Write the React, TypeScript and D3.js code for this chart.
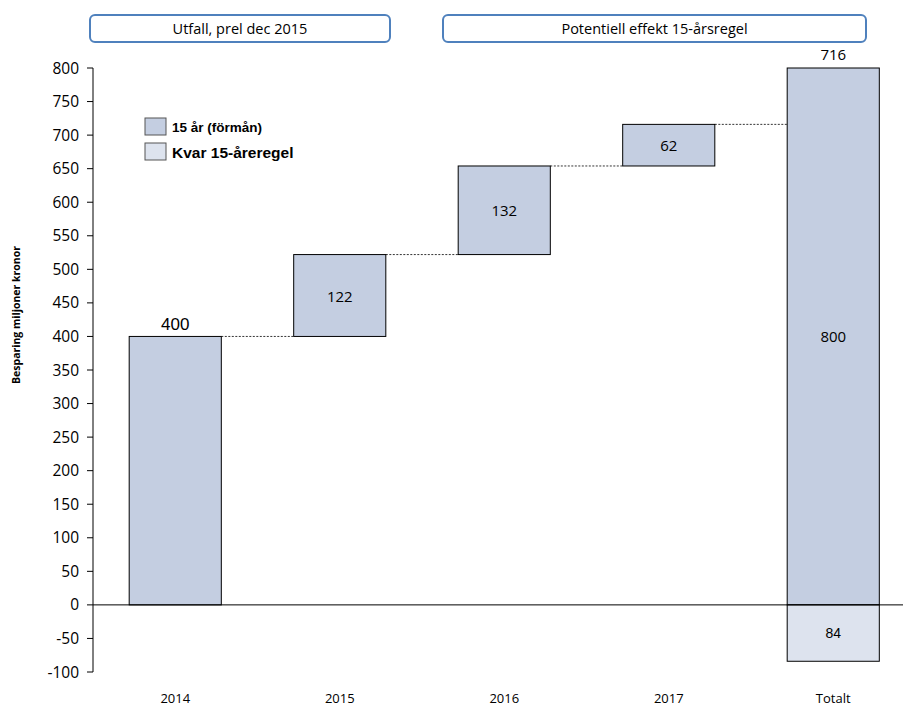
import React from "react";
import * as d3 from "d3";

const categories = ["2014", "2015", "2016", "2017", "Totalt"];
const steps = [400, 122, 132, 62];
const totalValue = 800;
const totalLabel = 716;
const remainder = -84;
const yTicks = [-100, -50, 0, 50, 100, 150, 200, 250, 300, 350, 400, 450, 500, 550, 600, 650, 700, 750, 800];
const legendItems = ["15 år (förmån)", "Kvar 15-åreregel"];
const headers = ["Utfall, prel dec 2015", "Potentiell effekt 15-årsregel"];

const W = 903;
const H = 706;
const FONT = "'Open Sans', 'Noto Sans', sans-serif";
const ARIAL = "'Liberation Sans', Arial, sans-serif";
const FILL = "#c4cee1";
const LIGHT = "#dde3ee";

export default function App() {
  const x = d3.scaleBand<string>().domain(categories).range([93, 915.5]).paddingInner(0.44).paddingOuter(0.22);
  const y = d3.scaleLinear().domain([-100, 800]).range([672, 68]);
  const bw = x.bandwidth();

  let cum = 0;
  const bars = steps.map((v, i) => {
    const start = cum;
    cum += v;
    return { cat: categories[i], start, end: cum, v };
  });

  return (
    <div style={{ position: "fixed", left: 0, top: 0, width: W, height: H, overflow: "hidden", background: "#fff" }}>
      <svg width={W} height={H} style={{ display: "block" }}>
        <rect x={0} y={0} width={W} height={H} fill="#fff" />
        {/* header boxes */}
        <rect x={90} y={15} width={300} height={27} rx={5} fill="#fff" stroke="#4f81bd" strokeWidth={2} />
        <text x={240} y={34} textAnchor="middle" fontFamily={FONT} fontSize={14.5}>{headers[0]}</text>
        <rect x={443} y={15} width={423} height={27} rx={5} fill="#fff" stroke="#4f81bd" strokeWidth={2} />
        <text x={654.5} y={34} textAnchor="middle" fontFamily={FONT} fontSize={14.5}>{headers[1]}</text>

        {/* y axis */}
        <line x1={93} x2={93} y1={y(800)} y2={y(-100)} stroke="#000" strokeWidth={1} />
        {yTicks.map((t) => (
          <g key={t}>
            <line x1={87} x2={93} y1={y(t)} y2={y(t)} stroke="#000" />
            <text x={79} y={y(t) + 5.5} textAnchor="end" fontFamily={FONT} fontSize={15.5}>{t}</text>
          </g>
        ))}
        <text transform={`translate(20,${315}) rotate(-90)`} textAnchor="middle" fontFamily={FONT} fontSize={10.5} fontWeight="bold">
          Besparing miljoner kronor
        </text>

        {/* bars */}
        {bars.map((b, i) => (
          <g key={b.cat}>
            <rect x={x(b.cat)!} y={y(b.end)} width={bw} height={y(b.start) - y(b.end)} fill={FILL} stroke="#000" strokeWidth={1} />
            {i === 0 ? (
              <text x={x(b.cat)! + bw / 2} y={y(b.end) - 6} textAnchor="middle" fontFamily={ARIAL} fontSize={17}>{b.v}</text>
            ) : (
              <text x={x(b.cat)! + bw / 2} y={(y(b.end) + y(b.start)) / 2 + 6} textAnchor="middle" fontFamily={FONT} fontSize={15}>{b.v}</text>
            )}
          </g>
        ))}
        {/* connectors */}
        {bars.map((b, i) => {
          const next = i < bars.length - 1 ? bars[i + 1].cat : "Totalt";
          return (
            <line key={"c" + i} x1={x(b.cat)! + bw} x2={x(next)!} y1={y(b.end)} y2={y(b.end)} stroke="#000" strokeWidth={0.8} strokeDasharray="2,1.5" />
          );
        })}
        {/* total */}
        <rect x={x("Totalt")!} y={y(totalValue)} width={bw} height={y(0) - y(totalValue)} fill={FILL} stroke="#000" />
        <text x={x("Totalt")! + bw / 2} y={(y(totalValue) + y(0)) / 2 + 6} textAnchor="middle" fontFamily={FONT} fontSize={15}>{totalValue}</text>
        <text x={x("Totalt")! + bw / 2} y={y(totalValue) - 8} textAnchor="middle" fontFamily={FONT} fontSize={15}>{totalLabel}</text>
        <rect x={x("Totalt")!} y={y(0)} width={bw} height={y(remainder) - y(0)} fill={LIGHT} stroke="#000" />
        <text x={x("Totalt")! + bw / 2} y={(y(0) + y(remainder)) / 2 + 5} textAnchor="middle" fontFamily={ARIAL} fontSize={14}>{-remainder}</text>

        {/* zero line */}
        <line x1={93} x2={W} y1={y(0)} y2={y(0)} stroke="#000" strokeWidth={1} />

        {/* x labels */}
        {categories.map((c) => (
          <text key={c} x={x(c)! + bw / 2} y={703} textAnchor="middle" fontFamily={FONT} fontSize={13}>{c}</text>
        ))}

        {/* legend */}
        <rect x={145} y={118} width={21} height={17} fill={FILL} stroke="#555" />
        <text x={172} y={132} fontFamily={ARIAL} fontSize={13.5} fontWeight="bold">{legendItems[0]}</text>
        <rect x={145} y={143} width={21} height={17} fill={LIGHT} stroke="#555" />
        <text x={172} y={158} fontFamily={ARIAL} fontSize={15.5} fontWeight="bold">{legendItems[1]}</text>
      </svg>
    </div>
  );
}
